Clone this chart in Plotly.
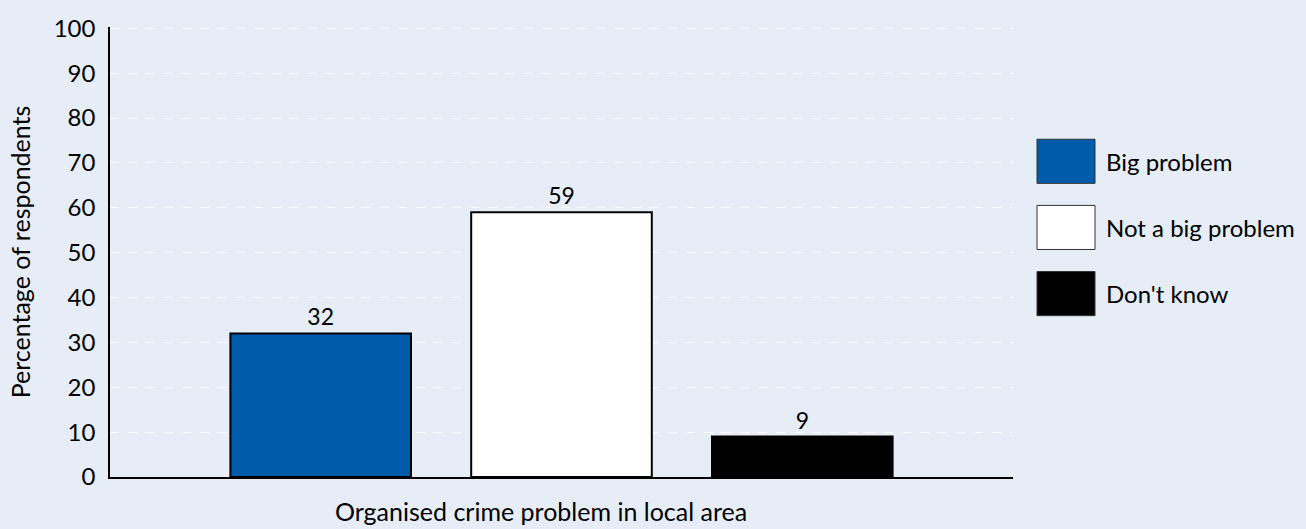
import plotly.graph_objects as go

category = ["Organised crime problem in local area"]
x_title = "Organised crime problem in local area"
y_title = "Percentage of respondents"
series_names = ["Big problem", "Not a big problem", "Don't know"]
series_values = [32, 59, 9]
series_colors = ["#005BAA", "#FFFFFF", "#000000"]
y_ticks = list(range(0, 101, 10))

FONT = "Lato, 'Open Sans', sans-serif"
BG = "#E6EDF6"

fig = go.Figure()
for name, val, col in zip(series_names, series_values, series_colors):
    fig.add_trace(go.Bar(
        x=category, y=[val], name=name,
        marker=dict(color=col, line=dict(color="#000000", width=2)),
        text=[str(val)], textposition="outside", cliponaxis=False,
        textfont=dict(size=23, color="#000000", family=FONT),
        showlegend=False,
    ))

# custom legend with large swatches
leg_x0, leg_x1 = 1037, 1095
leg_y = [162, 228, 294]
for name, col, yc in zip(series_names, series_colors, leg_y):
    fig.add_shape(type="rect", xref="paper", yref="paper",
                  x0=(leg_x0 - 110) / 903, x1=(leg_x1 - 110) / 903,
                  y0=(477 - (yc + 22)) / 449, y1=(477 - (yc - 22)) / 449,
                  fillcolor=col, line=dict(color="#333333", width=1))
    fig.add_annotation(xref="paper", yref="paper",
                       x=(1104 - 110) / 903, y=(477 - yc) / 449,
                       text=name, showarrow=False, xanchor="left", yanchor="middle",
                       font=dict(size=24, color="#000000", family=FONT))

# x-axis title (slightly left of plot centre, as in the original)
fig.add_annotation(xref="paper", yref="paper",
                   x=(541 - 110) / 903, y=(477 - 511) / 449,
                   text=x_title, showarrow=False, xanchor="center", yanchor="middle",
                   font=dict(size=25, color="#000000", family=FONT))

fig.update_layout(
    width=1306, height=529,
    margin=dict(l=110, r=293, t=27, b=52),
    paper_bgcolor=BG, plot_bgcolor=BG,
    barmode="group", bargap=0.2, bargroupgap=0.25,
    font=dict(family=FONT, color="#000000"),
    xaxis=dict(
        showline=True, linecolor="#000000", linewidth=1.5,
        showticklabels=False, ticks="inside", tickson="boundaries",
        ticklen=10, tickcolor="#333333", tickwidth=2,
        showgrid=False,
    ),
    yaxis=dict(
        range=[0, 100.3], tickvals=y_ticks,
        showline=True, linecolor="#000000", linewidth=1.5,
        ticks="", tickfont=dict(size=24, family=FONT), ticklabelstandoff=8,
        showgrid=True, gridcolor="#FFFFFF", griddash="dash", gridwidth=1,
        zeroline=False,
        title=dict(text=y_title, font=dict(size=25, family=FONT), standoff=16),
    ),
)

fig.write_html(
    "out.html",
    config={"displayModeBar": False},
    post_script="document.body.style.margin='0';document.body.style.background='#E6EDF6';",
)
